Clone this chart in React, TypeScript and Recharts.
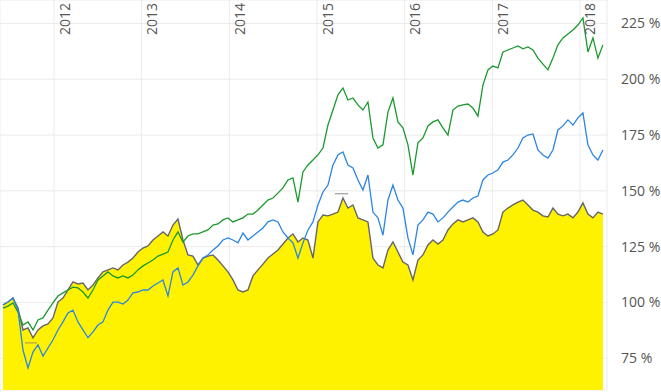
import { ComposedChart, Area, Line, XAxis, YAxis, CartesianGrid, ReferenceLine } from "recharts";

// one sample roughly every three weeks, starting mid 2011
const firstDate = 2011.418;
const step = 0.05703;

const yearTicks = [2012, 2013, 2014, 2015, 2016, 2017, 2018];
const pctTicks = [75, 100, 125, 150, 175, 200, 225];

// yellow area (gray outline)
const baseSeries = [
  98.9, 100.2, 102.0, 97.5, 87.7, 88.6, 84.2, 87.7, 89.5, 90.4, 93.1, 100.2, 102.0, 105.6, 109.2, 108.3,
  108.7, 105.6, 107.8, 111.0, 113.7, 114.6, 115.5, 114.6, 116.8, 118.1, 119.9, 122.6, 124.4, 125.3, 128.0,
  129.8, 131.6, 129.8, 134.7, 137.4, 128.0, 121.3, 120.8, 116.8, 119.9, 120.8, 121.3, 119.0, 116.4, 113.7,
  110.1, 105.6, 104.7, 105.6, 111.9, 114.6, 117.2, 119.9, 121.7, 123.5, 126.2, 128.9, 130.7, 127.1, 128.9,
  128.0, 119.9, 136.1, 139.2, 138.8, 139.6, 140.5, 146.8, 142.3, 143.7, 137.9, 137.0, 136.1, 119.9, 116.8,
  115.5, 123.5, 127.1, 122.6, 118.1, 116.8, 110.1, 119.0, 121.3, 125.8, 128.0, 126.2, 128.0, 132.5, 135.2,
  137.0, 136.1, 137.0, 137.9, 136.1, 131.6, 129.8, 130.7, 132.5, 140.5, 142.3, 143.7, 145.0, 145.9, 143.7,
  141.4, 140.5, 138.8, 138.3, 142.3, 139.6, 138.8, 139.6, 137.9, 140.5, 144.6, 139.6, 137.9, 140.5, 139.6,
];

// green line
const greenSeries = [
  97.5, 98.4, 99.8, 95.7, 89.9, 91.3, 87.7, 92.2, 93.1, 96.6, 99.8, 102.9, 104.3, 105.6, 106.9, 106.5,
  104.7, 102.0, 105.6, 110.1, 111.9, 113.7, 111.9, 111.0, 111.9, 111.0, 112.3, 114.6, 116.4, 117.7, 119.0,
  120.8, 121.7, 122.6, 128.0, 131.6, 127.1, 129.8, 130.7, 130.7, 131.6, 132.5, 134.7, 135.2, 137.0, 137.9,
  136.1, 137.0, 137.9, 139.6, 139.6, 141.4, 143.7, 145.9, 146.8, 149.0, 151.3, 154.9, 155.8, 145.0, 158.5,
  161.6, 163.8, 166.1, 169.2, 179.5, 186.2, 193.0, 196.1, 190.7, 191.6, 188.5, 186.2, 189.8, 173.7, 169.2,
  170.6, 185.3, 191.6, 180.9, 178.2, 170.6, 157.1, 171.5, 173.7, 179.1, 180.9, 181.8, 178.2, 175.0, 186.2,
  188.0, 188.5, 188.9, 187.1, 183.5, 197.4, 204.2, 205.9, 205.1, 212.2, 213.1, 214.0, 214.9, 213.6, 214.5,
  213.1, 209.5, 206.8, 204.2, 209.5, 215.4, 218.5, 220.3, 222.1, 224.3, 227.5, 212.2, 218.5, 209.5, 215.4,
];

// blue line
const blueSeries = [
  98.9, 100.2, 102.0, 96.6, 78.7, 70.7, 77.8, 81.0, 76.0, 79.6, 83.2, 87.7, 91.3, 95.3, 96.6, 91.3,
  87.7, 84.2, 86.8, 89.9, 91.3, 96.6, 100.2, 100.2, 99.3, 101.1, 104.3, 104.7, 105.6, 105.6, 107.4,
  108.7, 110.1, 102.9, 113.7, 115.5, 107.8, 109.2, 112.3, 116.4, 119.9, 121.3, 123.5, 125.3, 128.0, 128.9,
  128.0, 126.7, 131.1, 128.0, 129.8, 131.6, 133.4, 136.1, 137.0, 136.1, 131.6, 128.9, 126.7, 119.9, 126.7,
  132.5, 136.1, 143.7, 149.5, 152.6, 161.6, 166.1, 167.4, 161.6, 160.3, 154.9, 150.4, 157.1, 140.5, 137.9,
  130.2, 145.9, 152.6, 145.9, 142.3, 128.9, 121.3, 134.7, 137.0, 140.5, 139.6, 136.1, 137.9, 140.5, 142.8,
  145.0, 145.9, 145.0, 146.8, 147.7, 154.9, 157.1, 158.0, 159.4, 162.9, 163.8, 166.1, 169.2, 173.7, 175.0,
  175.5, 168.3, 166.1, 164.7, 168.3, 177.3, 179.1, 181.8, 179.5, 182.7, 184.9, 170.6, 166.1, 163.8, 168.3,
];

// small high / low markers on the yellow series
const highMark = { from: 2015.205, to: 2015.354, value: 148.7 };
const lowMark = { from: 2011.669, to: 2011.806, value: 81.9 };

const data = baseSeries.map((v, i) => ({
  t: firstDate + i * step,
  base: v,
  green: greenSeries[i],
  blue: blueSeries[i],
}));

const labelFont = "'Open Sans', 'DejaVu Sans', sans-serif";

function YearTick(props: any) {
  const { x, payload } = props;
  const bx = x + 15.5;
  const by = 35;
  return (
    <text
      x={bx}
      y={by}
      transform={`rotate(-90 ${bx} ${by})`}
      textAnchor="start"
      fontSize={14}
      fontFamily={labelFont}
      fill="#555"
    >
      {payload.value}
    </text>
  );
}

export default function App() {
  return (
    <div style={{ position: "absolute", left: 0, top: 0, background: "#fff" }}>
      <ComposedChart
        width={661}
        height={392}
        data={data}
        margin={{ top: -1, right: 0, left: 0, bottom: 2 }}
        accessibilityLayer={false}
      >
        <CartesianGrid stroke="#ebebeb" />
        <XAxis
          dataKey="t"
          type="number"
          orientation="top"
          height={1}
          domain={[2011.384, 2018.308]}
          ticks={yearTicks}
          interval={0}
          allowDataOverflow
          axisLine={false}
          tickLine={false}
          tick={YearTick}
        />
        <YAxis
          orientation="right"
          width={54}
          domain={[60.8, 235.5]}
          ticks={pctTicks}
          allowDataOverflow
          axisLine={false}
          tickLine={false}
          tickMargin={8}
          tickFormatter={(v: number) => `${v} %`}
          tick={{ fill: "#555", fontSize: 14, fontFamily: labelFont }}
        />
        <Area
          type="linear"
          dataKey="base"
          stroke="#666"
          strokeWidth={1.4}
          fill="#fff200"
          fillOpacity={1}
          isAnimationActive={false}
          dot={false}
          activeDot={false}
        />
        <Line
          type="linear"
          dataKey="green"
          stroke="#1a9a2e"
          strokeWidth={1.3}
          dot={false}
          activeDot={false}
          isAnimationActive={false}
        />
        <Line
          type="linear"
          dataKey="blue"
          stroke="#2b85e4"
          strokeWidth={1.3}
          dot={false}
          activeDot={false}
          isAnimationActive={false}
        />
        <ReferenceLine
          segment={[
            { x: highMark.from, y: highMark.value },
            { x: highMark.to, y: highMark.value },
          ]}
          stroke="#888"
          strokeWidth={1}
        />
        <ReferenceLine
          segment={[
            { x: lowMark.from, y: lowMark.value },
            { x: lowMark.to, y: lowMark.value },
          ]}
          stroke="#a89060"
          strokeWidth={1}
        />
      </ComposedChart>
    </div>
  );
}
